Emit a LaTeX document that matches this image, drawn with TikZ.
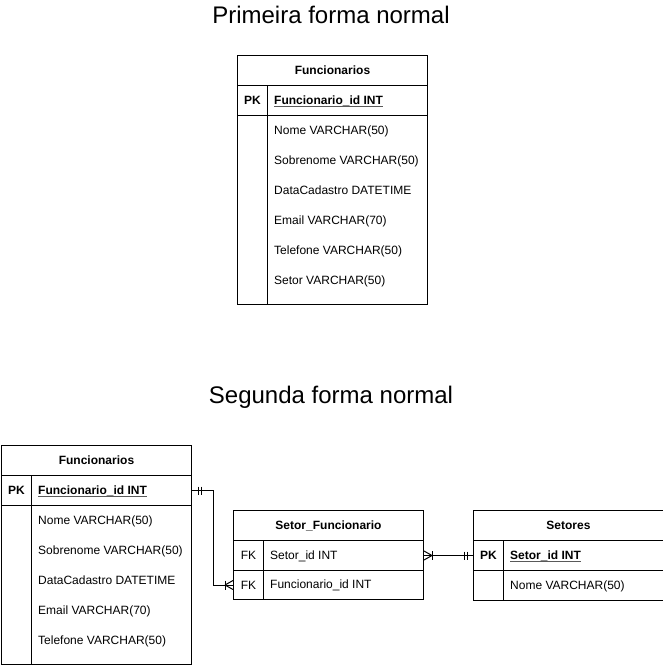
\documentclass[tikz,border=0pt]{standalone}
\usepackage{fontspec}
\setmainfont{Liberation Sans}
\usetikzlibrary{positioning}

\tikzset{
  cell/.style={draw, line width=1pt, inner sep=0pt, anchor=north west, font=\fontsize{12}{14}\selectfont},
  hdr/.style={cell, minimum width=190pt, minimum height=30pt, font=\fontsize{12}{14}\selectfont\bfseries},
  rowbox/.style={cell, minimum width=190pt, minimum height=30pt},
  keycell/.style={cell, minimum width=30pt, minimum height=30pt},
  field/.style={anchor=base west, inner sep=0pt, font=\fontsize{12}{14}\selectfont},
  keytxt/.style={anchor=base, inner sep=0pt, font=\fontsize{12}{14}\selectfont},
  title/.style={anchor=base, inner sep=0pt, font=\fontsize{24}{28}\selectfont},
  keyline/.style={draw=black!65, line width=0.8pt},
  rel/.style={line width=1pt},
}

\begin{document}
\begin{tikzpicture}[x=1pt, y=-1pt]
  \useasboundingbox (0,0) rectangle (663,665);

  % primeira forma normal
  \node[title] (tit1) at (331,23) {Primeira forma normal};
  \node[hdr] (f1h) at (237,55) {Funcionarios};
  \node[rowbox] (f1pk) at (237,85) {};
  \node[keycell] (f1pkk) at (237,85) {};
  \node[keytxt] at ([yshift=-4.3pt]f1pkk.center) {\bfseries PK};
  \node[field] (f1id) at (274,104.3) {\bfseries Funcionario\_id INT};
  \draw[keyline] ([yshift=-2.3pt]f1id.base west) -- ([yshift=-2.3pt]f1id.base east);
  \node[rowbox, minimum height=189pt] (f1body) at (237,115) {};
  \node[keycell, minimum height=189pt] (f1bodyk) at (237,115) {};
  \foreach \txt [count=\i] in {Nome VARCHAR(50), Sobrenome VARCHAR(50), DataCadastro DATETIME,
      Email VARCHAR(70), Telefone VARCHAR(50), Setor VARCHAR(50)}
    \node[field] (f1a\i) at (274,104.3+30*\i) {\txt};

  % segunda forma normal
  \node[title] (tit2) at (331,403) {Segunda forma normal};
  \node[hdr] (f2h) at (1,445) {Funcionarios};
  \node[rowbox] (f2pk) at (1,475) {};
  \node[keycell] (f2pkk) at (1,475) {};
  \node[keytxt] at ([yshift=-4.3pt]f2pkk.center) {\bfseries PK};
  \node[field] (f2id) at (38,494.3) {\bfseries Funcionario\_id INT};
  \draw[keyline] ([yshift=-2.3pt]f2id.base west) -- ([yshift=-2.3pt]f2id.base east);
  \node[rowbox, minimum height=159pt] (f2body) at (1,505) {};
  \node[keycell, minimum height=159pt] (f2bodyk) at (1,505) {};
  \foreach \txt [count=\i] in {Nome VARCHAR(50), Sobrenome VARCHAR(50), DataCadastro DATETIME,
      Email VARCHAR(70), Telefone VARCHAR(50)}
    \node[field] (f2a\i) at (38,494.3+30*\i) {\txt};

  % Setor_Funcionario
  \node[hdr] (sfh) at (233,510) {Setor\_Funcionario};
  \node[rowbox] (sfk1) at (233,540) {};
  \node[keycell] (sfk1k) at (233,540) {};
  \node[keytxt] at ([yshift=-4.3pt]sfk1k.center) {FK};
  \node[field] (sfa1) at (270,559.3) {Setor\_id INT};
  \node[rowbox, minimum height=29pt] (sfk2) at (233,570) {};
  \node[keycell, minimum height=29pt] (sfk2k) at (233,570) {};
  \node[keytxt] at ([yshift=-4.3pt]sfk2k.center) {FK};
  \node[field] (sfa2) at (270,588.8) {Funcionario\_id INT};

  % Setores
  \node[hdr] (seth) at (473,510) {Setores};
  \node[rowbox] (setpk) at (473,540) {};
  \node[keycell] (setpkk) at (473,540) {};
  \node[keytxt] at ([yshift=-4.3pt]setpkk.center) {\bfseries PK};
  \node[field] (seta1) at (510,559.3) {\bfseries Setor\_id INT};
  \draw[keyline] ([yshift=-2.3pt]seta1.base west) -- ([yshift=-2.3pt]seta1.base east);
  \node[rowbox] (setb) at (473,570) {};
  \node[keycell] (setbk) at (473,570) {};
  \node[field] (seta2) at (510,589.3) {Nome VARCHAR(50)};

  % relacoes
  \draw[rel] (f2pk.east) -- ++(21,0) |- (sfk2.west);
  \draw[rel] ([xshift=6pt]f2pk.east) ++(0,-4) -- ++(0,8);
  \draw[rel] ([xshift=9pt]f2pk.east) ++(0,-4) -- ++(0,8);
  \draw[rel] ([xshift=-8pt]sfk2.west) ++(0,-4.5) -- ++(0,9);
  \draw[rel] ([xshift=-8pt]sfk2.west) -- ([yshift=-4.5pt]sfk2.west);
  \draw[rel] ([xshift=-8pt]sfk2.west) -- ([yshift=4.5pt]sfk2.west);

  \draw[rel] (sfk1.east) -- (setpk.west);
  \draw[rel] ([xshift=8pt]sfk1.east) ++(0,-4.5) -- ++(0,9);
  \draw[rel] ([xshift=8pt]sfk1.east) -- ([yshift=-4.5pt]sfk1.east);
  \draw[rel] ([xshift=8pt]sfk1.east) -- ([yshift=4.5pt]sfk1.east);
  \draw[rel] ([xshift=-6pt]setpk.west) ++(0,-4) -- ++(0,8);
  \draw[rel] ([xshift=-9pt]setpk.west) ++(0,-4) -- ++(0,8);
\end{tikzpicture}
\end{document}
